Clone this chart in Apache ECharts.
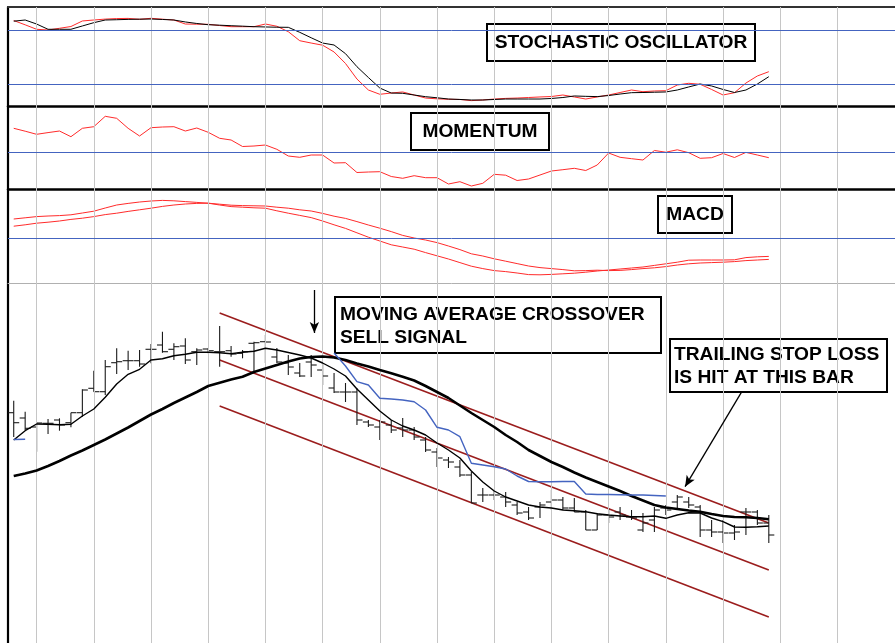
<!DOCTYPE html>
<html><head><meta charset="utf-8">
<script src="https://cdn.jsdelivr.net/npm/echarts@6/dist/echarts.min.js"></script>
<style>html,body{margin:0;padding:0;background:#fff}#c{width:895px;height:643px}</style>
</head><body><div id="c"></div>
<script>
// ---- Price bars (OHLC) ----
const opens  = [43.03,42.5,41.6,41.97,42.3,42.03,43.03,45.47,45.13,48.03,48.23,48.23,49.37,49.8,49.37,49.7,49.13,49.4,49.13,49.23,48.97,49.97,50.13,48.6,48.0,47.0,48.1,47.3,45.5,45.1,45.1,42.1,41.6,41.8,41.5,41.3,40.3,39.1,38.3,37.6,36.8,34.8,34.8,34.6,33.8,33.1,33.6,34.1,34.3,33.5,33.1,31.3,32.8,33.1,32.6,31.3,32.3,33.5,34.1,34.1,33.6,31.3,31.1,31.0,33.1,33.1,32.0];
const closes = [42.03,41.47,42.0,41.97,41.8,43.03,45.3,45.13,47.63,48.13,48.23,47.9,49.37,49.13,49.63,48.3,49.3,49.23,49.13,48.9,49.13,50.03,50.1,48.1,47.6,46.7,47.8,46.7,45.1,45.1,42.3,41.8,42.1,41.3,41.3,40.6,39.3,38.5,38.1,36.8,34.0,34.8,34.8,34.1,33.0,32.5,33.8,34.3,33.5,33.1,31.3,32.8,32.6,32.8,32.5,32.0,33.3,33.3,34.6,33.8,31.3,31.1,31.0,31.1,33.1,32.0,30.8];
const lows   = [40.6,41.3,39.13,40.9,41.23,41.57,42.63,45.13,44.8,46.9,47.3,47.63,47.97,49.03,48.3,47.9,47.8,48.97,47.63,48.63,48.47,46.97,48.0,48.0,46.8,46.6,46.6,45.8,45.0,44.1,41.8,41.6,40.3,41.0,40.6,40.3,39.1,37.6,37.5,36.6,34.0,34.1,34.3,33.6,32.8,32.3,32.5,33.3,33.3,33.1,31.3,31.3,32.0,32.3,32.3,31.1,31.1,32.8,33.3,33.5,30.6,30.6,30.0,30.3,30.8,31.8,30.0];
const highs  = [44.23,43.13,42.03,42.4,42.47,43.03,45.37,47.23,48.3,49.47,49.23,49.3,49.9,51.13,49.97,50.47,49.47,49.47,51.7,49.7,49.3,50.13,50.8,49.5,48.8,48.0,48.8,48.0,47.0,46.0,45.5,42.3,42.3,42.3,42.5,41.6,40.6,39.5,38.6,38.3,37.1,35.5,35.3,35.1,34.1,33.6,34.1,35.3,34.6,34.5,33.3,33.0,33.5,33.6,33.3,33.0,33.6,33.8,34.8,34.6,33.8,32.3,32.3,31.8,33.5,33.3,32.8];

// ---- Moving averages ----
const maShort = [40.3,41.23,41.9,41.87,41.83,41.87,42.7,43.4,44.57,45.9,46.87,47.37,48.3,48.43,48.73,48.87,49.07,49.07,49.03,48.93,49.07,49.17,49.47,49.3,49.05,48.8,48.5,48.0,47.4,46.7,45.4,44.3,43.2,42.3,41.7,41.3,40.8,40.0,39.3,38.5,37.2,36.1,35.2,34.6,34.2,33.8,33.6,33.5,33.3,33.23,33.13,32.93,32.8,32.7,32.63,32.63,32.7,32.47,32.8,33.03,33.0,32.5,32.13,31.6,31.57,31.63,31.7];
const maLong  = [36.7,36.95,37.25,37.7,38.2,38.75,39.25,39.8,40.35,40.95,41.55,42.2,42.85,43.4,44.0,44.55,45.1,45.7,46.03,46.35,46.63,47.1,47.45,47.8,48.15,48.45,48.6,48.65,48.55,48.3,47.95,47.65,47.3,46.97,46.63,46.25,45.7,45.1,44.5,43.75,43.0,42.3,41.6,40.8,40.1,39.3,38.7,38.1,37.6,37.05,36.55,36.1,35.65,35.2,34.7,34.25,33.8,33.55,33.4,33.25,33.13,32.9,32.7,32.6,32.57,32.5,32.37];

// ---- Trailing stop (null = no stop shown) ----
const trailStop = [40.35,40.37,null,null,null,null,null,null,null,null,null,null,null,null,null,null,null,null,null,null,null,null,null,null,null,null,null,null,49.0,47.7,46.13,45.8,44.47,44.4,44.3,44.13,43.3,41.57,41.3,40.63,37.97,37.8,37.63,37.4,36.7,36.15,36.13,36.13,36.15,36.15,34.9,34.85,34.85,34.83,34.8,34.8,34.75,34.7,null,null,null,null,null,null,null,null,null];

// ---- Regression channel (start bar, end bar) ----
const channelBars  = [18, 66];
const channelUpper = [53.0, 32.0];
const channelMid   = [48.3, 27.3];
const channelLower = [43.7, 22.6];

// ---- Stochastic oscillator ----
const stochK = [91.4,86.6,81.6,80.8,82.7,84.7,90.9,92.0,93.0,93.6,93.8,92.8,93.9,92.9,92.0,87.5,87.3,87.2,85.8,84.5,84.5,84.5,87.5,85.0,78.9,68.8,66.2,63.8,56.2,43.3,25.9,13.6,8.8,10.2,11.4,8.0,4.6,3.7,3.2,3.0,1.7,2.4,3.5,4.2,4.6,5.2,5.8,6.3,8.0,5.8,3.5,5.8,8.0,10.8,13.6,11.7,12.5,12.8,19.2,21.1,20.0,14.2,8.0,10.6,21.4,29.3,34.1];
const stochD = [90.7,92.0,87.5,81.6,81.6,81.6,85.3,89.0,92.0,92.3,92.7,92.9,93.1,92.6,92.0,89.8,88.1,86.7,86.2,85.6,85.1,84.5,84.2,83.9,83.8,78.2,72.1,66.2,64.0,54.3,39.7,27.6,15.8,10.2,9.9,8.0,6.1,4.9,3.5,3.0,2.4,2.4,3.0,3.5,3.5,3.5,3.5,4.1,5.2,6.9,6.5,6.2,7.4,9.1,10.6,10.8,11.1,11.4,13.6,17.0,20.3,18.1,14.2,10.8,13.6,20.3,28.5];
const stochLevels = [80, 20];

// ---- Momentum ----
const momentum = [2.37,2.08,1.77,1.94,2.10,1.53,2.37,2.53,3.57,3.37,2.37,1.60,2.43,2.50,2.53,2.10,2.40,1.97,1.37,1.20,0.55,0.60,0.70,0.27,-0.40,-0.53,-0.30,-0.30,-1.10,-1.07,-2.05,-2.00,-1.97,-2.45,-2.63,-2.37,-2.57,-2.57,-3.20,-2.97,-3.40,-3.13,-2.23,-2.32,-2.85,-2.70,-2.30,-1.90,-1.77,-1.63,-1.85,-1.30,-0.10,-0.53,-0.67,-0.80,0.15,-0.02,0.22,-0.07,-0.63,-0.57,-0.15,-0.55,-0.04,-0.30,-0.57];

// ---- MACD ----
const macdLine = [0.95,1.01,1.07,1.10,1.12,1.16,1.25,1.34,1.50,1.65,1.73,1.80,1.85,1.88,1.86,1.82,1.78,1.74,1.65,1.57,1.54,1.51,1.49,1.36,1.24,1.13,1.02,0.85,0.66,0.48,0.26,0.04,-0.15,-0.34,-0.45,-0.56,-0.73,-0.89,-1.05,-1.23,-1.41,-1.53,-1.63,-1.68,-1.75,-1.83,-1.84,-1.82,-1.79,-1.76,-1.71,-1.65,-1.60,-1.55,-1.50,-1.45,-1.37,-1.29,-1.21,-1.11,-1.10,-1.10,-1.10,-1.09,-0.98,-0.94,-0.92];
const signalLine = [0.59,0.66,0.74,0.79,0.85,0.93,0.99,1.07,1.17,1.24,1.33,1.41,1.49,1.58,1.65,1.70,1.73,1.74,1.69,1.64,1.62,1.61,1.60,1.54,1.49,1.41,1.35,1.23,1.09,0.98,0.82,0.65,0.49,0.32,0.13,0.00,-0.10,-0.23,-0.40,-0.58,-0.79,-0.90,-1.04,-1.16,-1.28,-1.40,-1.48,-1.53,-1.58,-1.64,-1.63,-1.61,-1.63,-1.62,-1.58,-1.53,-1.49,-1.43,-1.35,-1.29,-1.25,-1.23,-1.21,-1.18,-1.13,-1.10,-1.07];

// ---- Vertical grid (bar index of weekly lines) ----
const gridBars = [2,7,12,17,22,27,32,37,42,47,52,57,62,67,72];

// ---- Annotation anchors (bar index, price) ----
const sellArrow = [[26.28, 55.3], [26.28, 51.0]];
const stopArrow = [[63.64, 45.13], [58.68, 35.63]];

// ================= build =================
const pairs = arr => arr.map((v, i) => [i, v == null ? '-' : v]);
const ohlcData = opens.map((o, i) => [i, o, closes[i], lows[i], highs[i]]);

const X_MIN = -0.5, X_MAX = 77.03;
const RED = '#ff2b2b', BLUE = '#4464c0', DARKRED = '#9b1d1d';

function xAx(gi, show, color, width) {
  return {
    type: 'value', gridIndex: gi, min: X_MIN, max: X_MAX, position: 'top',
    show: show,
    axisLine: { show: show, onZero: false, lineStyle: { color: color || '#000', width: width || 1 } },
    axisTick: { show: false }, axisLabel: { show: false }, splitLine: { show: false }
  };
}
function yAx(gi, min, max, show) {
  return {
    type: 'value', gridIndex: gi, min: min, max: max, show: show,
    axisLine: { show: show, onZero: false, lineStyle: { color: '#000', width: 2.2 } },
    axisTick: { show: false }, axisLabel: { show: false }, splitLine: { show: false }
  };
}
function hLines(levels) {
  return {
    silent: true, symbol: 'none', label: { show: false }, animation: false,
    lineStyle: { color: BLUE, width: 1, type: 'solid' },
    data: levels.map(v => ({ yAxis: v }))
  };
}
function lineS(xi, data, color, width, z) {
  return {
    type: 'line', xAxisIndex: xi, yAxisIndex: xi, data: data, showSymbol: false, symbol: 'none',
    lineStyle: { color: color, width: width }, silent: true, animation: false, z: z || 3,
    connectNulls: false
  };
}

function renderOHLC(params, api) {
  const x = api.value(0);
  const o = api.coord([x, api.value(1)]);
  const c = api.coord([x, api.value(2)]);
  const l = api.coord([x, api.value(3)]);
  const h = api.coord([x, api.value(4)]);
  const w = 5.5;
  const st = { stroke: '#1a1a1a', lineWidth: 1.1 };
  return {
    type: 'group', children: [
      { type: 'line', shape: { x1: h[0], y1: h[1], x2: l[0], y2: l[1] }, style: st },
      { type: 'line', shape: { x1: o[0] - w, y1: o[1], x2: o[0], y2: o[1] }, style: st },
      { type: 'line', shape: { x1: c[0], y1: c[1], x2: c[0] + w, y2: c[1] }, style: st }
    ]
  };
}

const FONT = 'bold 19.2px "Liberation Sans", Arial, Helvetica, sans-serif';
function box(x, y, w, h, text, tx, ty, align) {
  return {
    type: 'group', z: 100, silent: true, children: [
      { type: 'rect', shape: { x: x, y: y, width: w, height: h }, style: { fill: '#fff', stroke: '#000', lineWidth: 2 } },
      { type: 'text', style: { x: tx, y: ty, text: text, font: FONT, fill: '#000', textAlign: align || 'left', verticalAlign: 'middle', textVerticalAlign: 'middle', lineHeight: 22.5 } }
    ]
  };
}

const chart = echarts.init(document.getElementById('c'), null, { renderer: 'canvas' });
const option = {
  animation: false,
  backgroundColor: '#fff',
  grid: [
    { left: 8, right: 0, top: 7, bottom: 0 },
    { left: 8, right: 0, top: 7, height: 99 },
    { left: 8, right: 0, top: 106, height: 83 },
    { left: 8, right: 0, top: 189, height: 94 },
    { left: 8, right: 0, top: 283, height: 360 }
  ],
  xAxis: [
    xAx(0, false),
    xAx(1, true, '#333', 2),
    xAx(2, true, '#000', 2.5),
    xAx(3, true, '#000', 2.5),
    xAx(4, true, '#b0b0b0', 1)
  ],
  yAxis: [
    yAx(0, 0, 1, false),
    yAx(1, -4.32, 106.56, true),
    yAx(2, -3.7, 4.6, true),
    yAx(3, -2.25, 2.45, true),
    yAx(4, 20, 56, true)
  ],
  series: [
    {
      type: 'line', xAxisIndex: 0, yAxisIndex: 0, data: [], silent: true, z: 1,
      markLine: {
        silent: true, symbol: 'none', label: { show: false }, animation: false,
        lineStyle: { color: '#c6c6c6', width: 1, type: 'solid' },
        data: gridBars.map(b => ({ xAxis: b }))
      }
    },
    Object.assign(lineS(1, pairs(stochK), RED, 1), { markLine: hLines(stochLevels) }),
    lineS(1, pairs(stochD), '#000', 1),
    Object.assign(lineS(2, pairs(momentum), RED, 1), { markLine: hLines([0]) }),
    Object.assign(lineS(3, pairs(macdLine), RED, 1), { markLine: hLines([0]) }),
    lineS(3, pairs(signalLine), RED, 1),
    Object.assign(lineS(4, channelBars.map((b, i) => [b, channelUpper[i]]), DARKRED, 1.6), {
      markLine: {
        silent: true, animation: false, symbol: ['none', 'arrow'], symbolSize: [7, 11],
        label: { show: false },
        lineStyle: { color: '#000', width: 1.3, type: 'solid' },
        data: [
          [{ coord: sellArrow[0] }, { coord: sellArrow[1] }],
          [{ coord: stopArrow[0] }, { coord: stopArrow[1] }]
        ]
      }
    }),
    lineS(4, channelBars.map((b, i) => [b, channelMid[i]]), DARKRED, 1.6),
    lineS(4, channelBars.map((b, i) => [b, channelLower[i]]), DARKRED, 1.6),
    {
      type: 'custom', xAxisIndex: 4, yAxisIndex: 4, data: ohlcData, renderItem: renderOHLC,
      encode: { x: 0, y: [1, 2, 3, 4] }, silent: true, animation: false, z: 4
    },
    lineS(4, pairs(maLong), '#000', 2.6, 5),
    lineS(4, pairs(maShort), '#000', 1.4, 5),
    lineS(4, pairs(trailStop), BLUE, 1.4, 6)
  ],
  graphic: [
    box(487, 24, 268, 37, 'STOCHASTIC OSCILLATOR', 621, 43, 'center'),
    box(411, 113, 138, 37, 'MOMENTUM', 480, 132, 'center'),
    box(658, 196, 74, 37, 'MACD', 695, 215, 'center'),
    box(335, 297, 326, 56, 'MOVING AVERAGE CROSSOVER\nSELL SIGNAL', 340, 326, 'left'),
    box(670, 339, 217, 53, 'TRAILING STOP LOSS\nIS HIT AT THIS BAR', 674, 366, 'left')
  ]
};
chart.setOption(option);
</script></body></html>
